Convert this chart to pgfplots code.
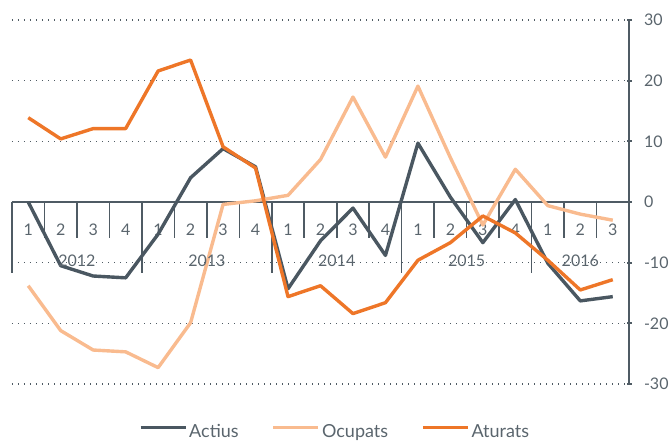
\documentclass[border=0pt]{standalone}
\usepackage{fontspec}
\setmainfont{Lato}
\usepackage{pgfplots}
\pgfplotsset{compat=1.18}
\definecolor{cact}{HTML}{4A5761}
\definecolor{cocu}{HTML}{F9BB8F}
\definecolor{catu}{HTML}{EE7628}
\definecolor{caxis}{HTML}{4F5B64}
\definecolor{ctext}{HTML}{5A656D}
\pgfplotstableread{
x act ocu atu
0 0.0 -13.8 13.9
1 -10.5 -21.2 10.4
2 -12.2 -24.4 12.1
3 -12.5 -24.7 12.1
4 -5.3 -27.3 21.6
5 4.0 -19.9 23.4
6 8.8 -0.4 9.1
7 5.8 0.2 5.6
8 -14.3 1.1 -15.6
9 -6.4 7.0 -13.8
10 -1.0 17.3 -18.4
11 -8.8 7.4 -16.6
12 9.7 19.1 -9.6
13 0.8 7.3 -6.7
14 -6.7 -3.8 -2.3
15 0.4 5.4 -5.1
16 -10.1 -0.6 -9.6
17 -16.3 -2.0 -14.5
18 -15.6 -3.0 -12.8
}\datatable
\begin{document}
\begin{tikzpicture}
\begin{axis}[
  width=617pt, height=364pt, scale only axis,
  xmin=-0.5, xmax=18.5, ymin=-30, ymax=30,
  axis x line=middle, axis y line=right,
  axis line style={-, caxis, line width=2pt},
  xtick={0,...,18},
  xticklabels={1,2,3,4,1,2,3,4,1,2,3,4,1,2,3,4,1,2,3},
  major x tick style={draw=none},
  xticklabel style={anchor=center, yshift=-25pt},
  ytick={-30,-20,...,30},
  yticklabels={-30,-20,-10,0,10,20,30},
  tick align=center,
  major tick length=5pt,
  major y tick style={caxis, line width=2pt},
  yticklabel style={xshift=9pt},
  tick label style={font=\fontsize{16}{19}\selectfont, text=ctext},
  ymajorgrids,
  grid style={dash pattern=on 1.2pt off 4.8pt, line width=1.2pt, color=caxis},
  legend style={at={(0.5235,-0.131)}, anchor=center, draw=none, fill=none,
    legend columns=3, font=\fontsize{18}{21}\selectfont, text=ctext,
    inner sep=0pt,
    /tikz/every even column/.append style={column sep=31pt},
    /tikz/every odd column/.append style={column sep=0pt}},
  legend cell align=left,
  legend image code/.code={\draw[#1] (0pt,4pt) -- (45pt,4pt); \path[draw=none] (0pt,-4pt) -- (0pt,8pt);},
  every axis plot/.append style={line width=3.4pt, line join=round},
  clip=false,
]
\foreach \s in {0.5,1.5,2.5,4.5,5.5,6.5,8.5,9.5,10.5,12.5,13.5,14.5,16.5,17.5}{
  \edef\temp{\noexpand\draw[caxis, line width=1.6pt] (axis cs:\s,0) -- (axis cs:\s,-5.9);}\temp
}
\foreach \s in {-0.5,3.5,7.5,11.5,15.5}{
  \edef\temp{\noexpand\draw[caxis, line width=1.6pt] (axis cs:\s,0) -- (axis cs:\s,-11.7);}\temp
}
\addplot[cact] table[x=x, y=act] {\datatable};
\addlegendentry{Actius}
\addplot[cocu] table[x=x, y=ocu] {\datatable};
\addlegendentry{Ocupats}
\addplot[catu] table[x=x, y=atu] {\datatable};
\addlegendentry{Aturats}
\node[font=\fontsize{16}{19}\selectfont, text=ctext] at (axis cs:1.5,-9.7) {2012};
\node[font=\fontsize{16}{19}\selectfont, text=ctext] at (axis cs:5.5,-9.7) {2013};
\node[font=\fontsize{16}{19}\selectfont, text=ctext] at (axis cs:9.5,-9.7) {2014};
\node[font=\fontsize{16}{19}\selectfont, text=ctext] at (axis cs:13.5,-9.7) {2015};
\node[font=\fontsize{16}{19}\selectfont, text=ctext] at (axis cs:17,-9.7) {2016};
\end{axis}
\pgfresetboundingbox
\path (-12pt,-58pt) rectangle (658pt,384pt);
\end{tikzpicture}
\end{document}
